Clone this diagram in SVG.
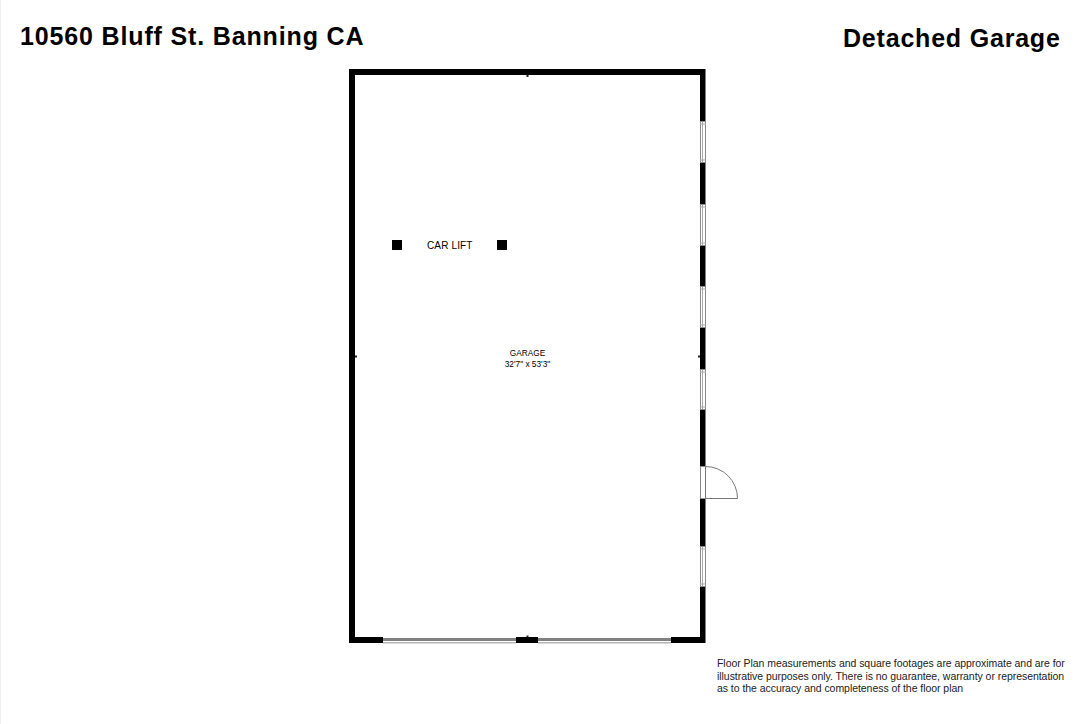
<svg xmlns="http://www.w3.org/2000/svg" width="1086" height="724" viewBox="0 0 1086 724">
<style>
text{font-family:"Liberation Sans",Arial,sans-serif;fill:#000}
.title{font-size:25px;font-weight:bold;letter-spacing:.85px}
.wall{fill:#000}
.win{fill:#fff;stroke:#8a8a8a;stroke-width:1}
.gd{fill:#808080}
.gl{fill:#b5b5b5}
.small{font-size:8.300px;text-anchor:middle}
.note{font-size:10.500px;fill:#222;letter-spacing:-.05px}
</style>
<rect width="1086" height="724" fill="#fff"/>
<rect x="0" y="0" width="1" height="724" fill="#f0f0f0"/>
<text class="title" x="20" y="45">10560 Bluff St. Banning CA</text>
<text class="title" x="843" y="47" style="letter-spacing:.8px">Detached Garage</text>
<g id="walls">
<path class="wall" fill-rule="evenodd" d="M349 69H705.500V643H349ZM355 75V637H700V75Z"/>
</g>
<g id="windows">
<g id="window-1"><rect class="win" x="700.500" y="121.500" width="5" height="41"/><path d="M702.500 122V162M700 124H706M700 160H706" stroke="#aaa" fill="none"/></g>
<g id="window-2"><rect class="win" x="700.500" y="204.500" width="5" height="41"/><path d="M702.500 205V245M700 207H706M700 243H706" stroke="#aaa" fill="none"/></g>
<g id="window-3"><rect class="win" x="700.500" y="286.500" width="5" height="41"/><path d="M702.500 287V327M700 289H706M700 325H706" stroke="#aaa" fill="none"/></g>
<g id="window-4"><rect class="win" x="700.500" y="369.500" width="5" height="40"/><path d="M702.500 370V409M700 372H706M700 407H706" stroke="#aaa" fill="none"/></g>
<g id="window-5"><rect class="win" x="700.500" y="546.500" width="5" height="40"/><path d="M702.500 547V586M700 549H706M700 584H706" stroke="#aaa" fill="none"/></g>
</g>
<g id="door">
<rect x="700.500" y="466.500" width="5" height="32" fill="#fff" stroke="#8a8a8a"/>
<path d="M705.500 466.500A32 32 0 0 1 737.500 498.500H705.500Z" fill="#fff" stroke="#777"/>
</g>
<g id="garage-doors">
<g id="garage-door-left"><rect x="383" y="637" width="133" height="6.500" fill="#fff"/><rect class="gd" x="383" y="638" width="133" height="3"/><rect class="gl" x="383" y="642" width="133" height="1.500"/></g>
<g id="garage-door-right"><rect x="538" y="637" width="133" height="6.500" fill="#fff"/><rect class="gd" x="538" y="638" width="133" height="3"/><rect class="gl" x="538" y="642" width="133" height="1.500"/></g>
</g>
<g id="ticks" fill="#222">
<rect x="526.500" y="75" width="2" height="2"/>
<rect x="526.500" y="635.500" width="2" height="2"/>
<rect x="355" y="355.500" width="2" height="2"/>
<rect x="698" y="355.500" width="2" height="2"/>
</g>
<g id="car-lift">
<rect class="wall" x="392" y="240" width="10" height="10"/>
<rect class="wall" x="497" y="240" width="10" height="10"/>
<text x="449.800" y="248.500" font-size="10" text-anchor="middle" letter-spacing=".15">CAR LIFT</text>
</g>
<g id="garage-label">
<text class="small" x="527.500" y="356">GARAGE</text>
<text class="small" x="527.500" y="366.500">32'7" x 53'3"</text>
</g>
<g id="disclaimer">
<text class="note" x="717" y="667">Floor Plan measurements and square footages are approximate and are for</text>
<text class="note" x="717" y="680">illustrative purposes only. There is no guarantee, warranty or representation</text>
<text class="note" x="717" y="692">as to the accuracy and completeness of the floor plan</text>
</g>
</svg>
